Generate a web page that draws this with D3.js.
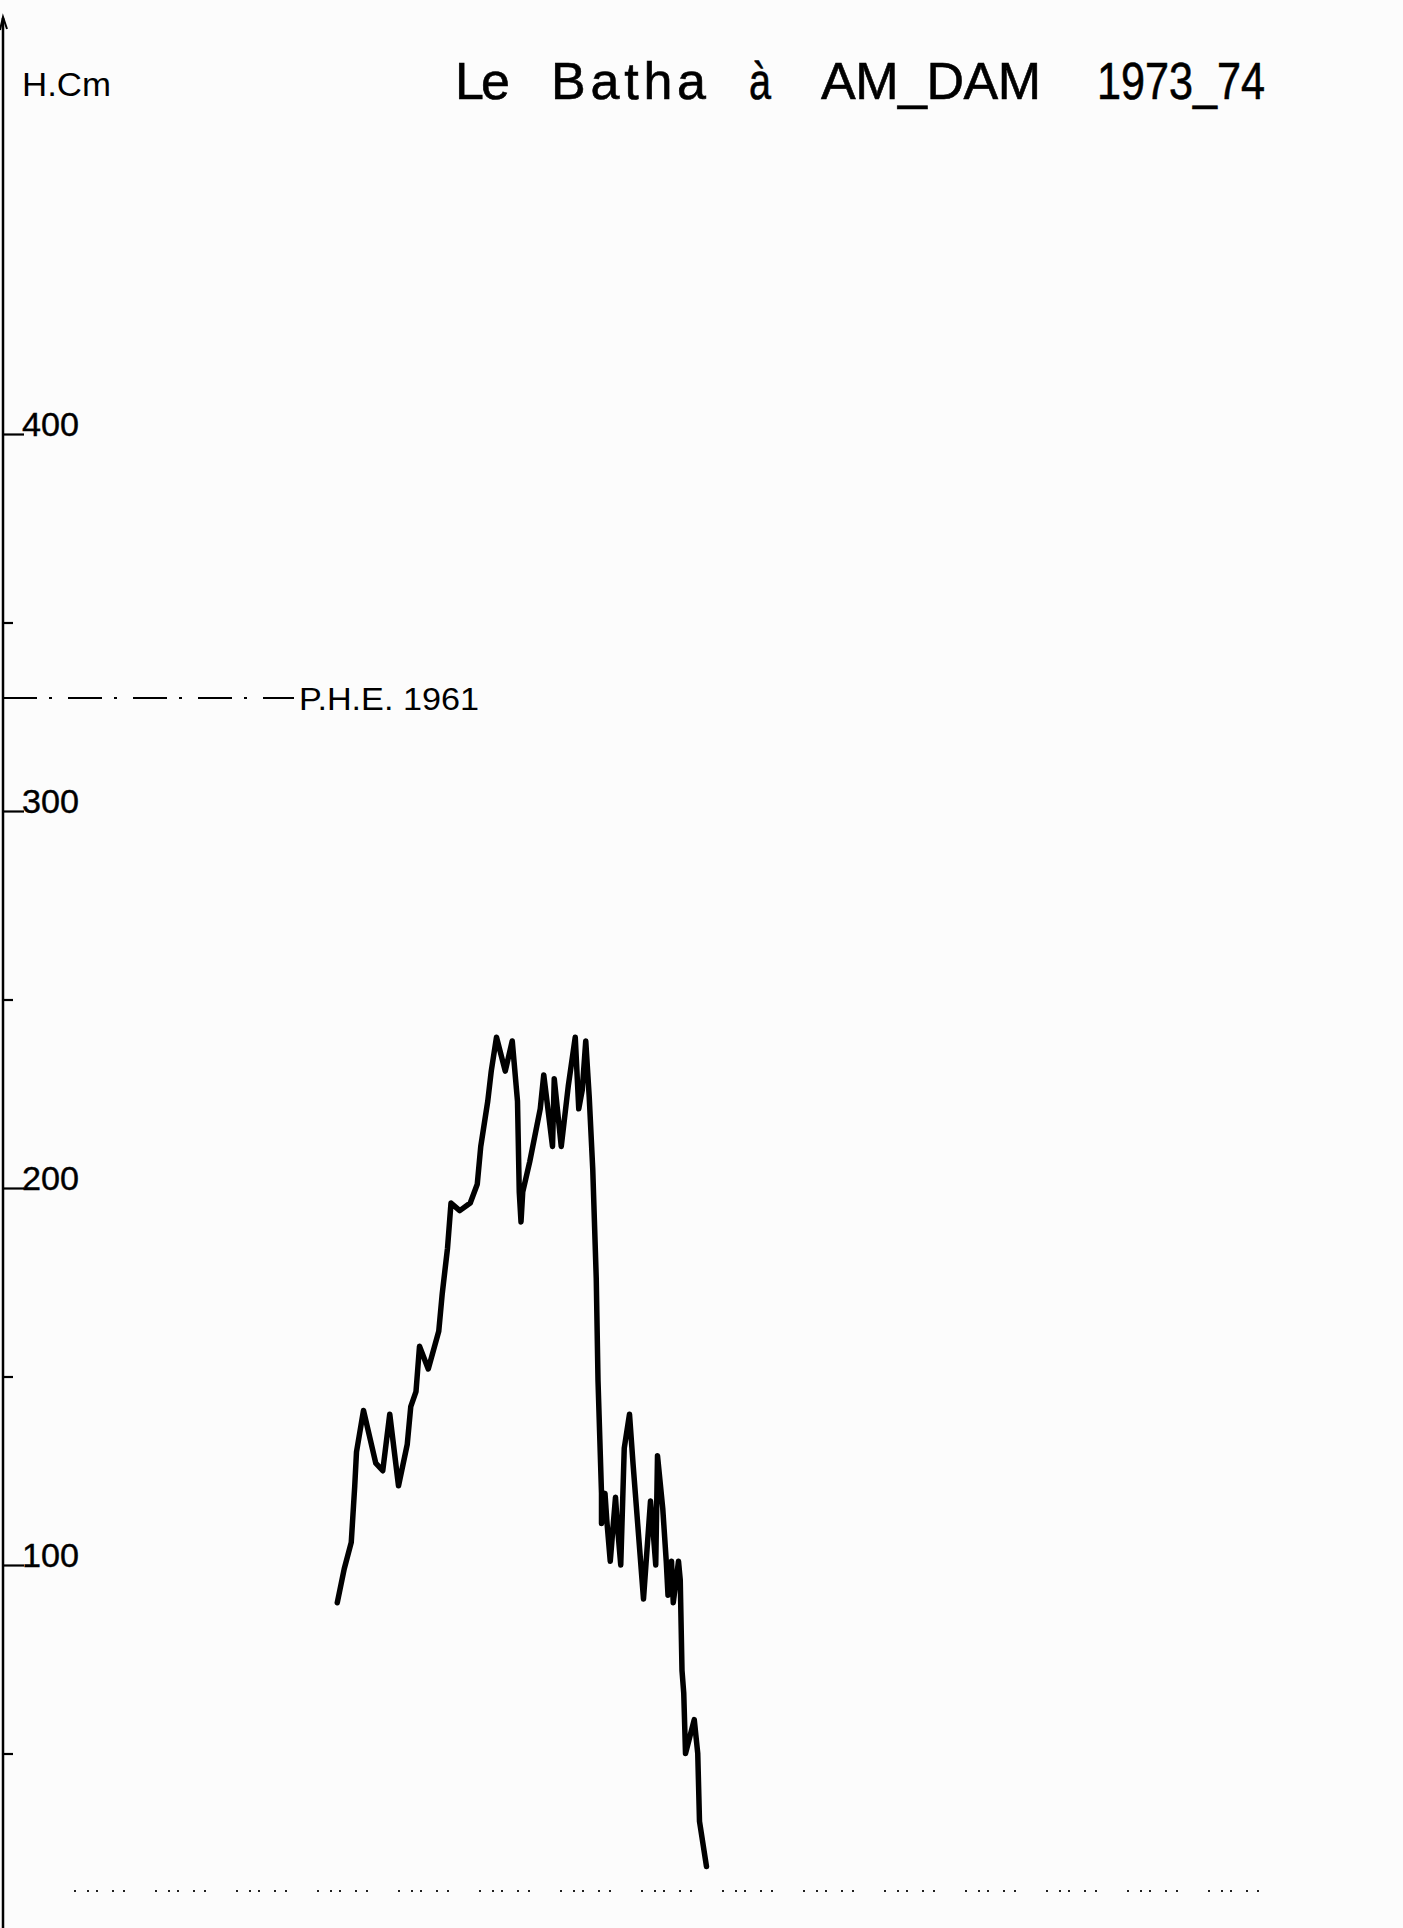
<!DOCTYPE html>
<html>
<head>
<meta charset="utf-8">
<script src="https://cdn.jsdelivr.net/npm/d3@7/dist/d3.min.js"></script>
<style>
  html, body { margin: 0; padding: 0; background: #fcfcfc; }
  svg { display: block; }
  text { font-family: "Liberation Sans", "DejaVu Sans", sans-serif; fill: #000; }
</style>
</head>
<body>
<svg id="chart" width="1403" height="1928"></svg>
<script>
// ---- Data (gauge readings, half-day resolution, day counted from start of hydrological year) ----
const days = [95.5, 97.5, 99.5, 100.5, 101, 103, 106.5, 108.5, 110.5, 113,
  115.5, 116.5, 118, 119, 121.5, 124.5, 125.5, 127, 128, 130.5,
  133.5, 135.5, 136.5, 138.5, 139.5, 141, 143.5, 145.5, 147, 147.5,
  148, 148.5, 150.5, 153.5, 154.5, 157, 157.5, 159.5, 161.5, 163.5,
  164.5, 165.5, 166.5, 167.5, 168.5, 169.5, 170, 171, 171, 172,
  172.5, 173.5, 175, 175.5, 176.5, 177.5, 179, 180, 183, 185,
  185.5, 186.5, 187, 188.5, 189.5, 190, 191, 191.5, 193, 193.5,
  194, 194.5, 195, 197.5, 198.5, 199, 201];
const heights = [90, 99, 106, 121, 130, 141, 127, 125, 140, 121,
  132, 142, 146, 158, 152, 162, 172, 184, 196, 194,
  196, 201, 211, 223, 231, 240, 231, 239, 223, 199,
  191, 199, 207, 221, 230, 211, 229, 211, 227, 240,
  221, 226, 239, 224, 205, 176, 149, 119, 111, 119,
  112, 101, 118, 111, 100, 131, 140, 127, 91, 117,
  112, 100, 129, 115, 101, 92, 101, 90, 101, 96,
  72, 66, 50, 59, 50, 32, 20];
const yTickValues = [100, 200, 300, 400];
const yMinorTickValues = [50, 150, 250, 350];
const pheValue = 330;
const pheLabel = "P.H.E. 1961";
const yAxisTitle = "H.Cm";
const titleWords = ["Le", "Batha", "à", "AM_DAM", "1973_74"];

// ---- Layout ----
const W = 1403, H = 1928;
const svg = d3.select("#chart");
svg.append("rect").attr("width", W).attr("height", H).attr("fill", "#fcfcfc");

const x = d3.scaleLinear().domain([0, 400]).range([3, 1403]);
const y = d3.scaleLinear().domain([0, 400]).range([1942, 434]);

// Title, word by word (hand lettering, wide spacing)
const titleBoxes = [[455, 55], [551, 155], [749, 22], [821, 220], [1097, 168]];
const title = svg.append("text").attr("y", 99).attr("font-size", 52)
  .attr("stroke", "#000").attr("stroke-width", 0.6);
titleWords.forEach((w, i) => {
  title.append("tspan")
    .attr("x", titleBoxes[i][0])
    .attr("textLength", titleBoxes[i][1])
    .attr("lengthAdjust", (w.length > 1 && w.length < 7) ? "spacing" : "spacingAndGlyphs")
    .text(w);
});

// Y axis title
svg.append("text").attr("x", 22).attr("y", 96).attr("font-size", 34)
  .attr("textLength", 89).attr("lengthAdjust", "spacingAndGlyphs").text(yAxisTitle);

// Axis line with small arrow
svg.append("line").attr("x1", 3).attr("x2", 3).attr("y1", 18).attr("y2", H)
  .attr("stroke", "#000").attr("stroke-width", 2.5);
svg.append("path").attr("d", "M0,30 L3,17 L7,29").attr("fill", "none")
  .attr("stroke", "#000").attr("stroke-width", 2);

// Major ticks with labels sitting on the tick
const axMajor = svg.append("g").attr("transform", "translate(3,0)")
  .call(d3.axisRight(y).tickValues(yTickValues).tickSize(21).tickSizeOuter(0).tickPadding(0));
axMajor.select(".domain").remove();
axMajor.selectAll(".tick line").attr("stroke", "#000").attr("stroke-width", 2.2);
axMajor.selectAll(".tick text")
  .attr("x", 19).attr("dy", 0).attr("y", 1)
  .attr("font-size", 34).attr("font-family", "Liberation Sans, sans-serif")
  .attr("fill", "#000").attr("text-anchor", "start")
  .attr("stroke", "#000").attr("stroke-width", 0.4)
  .attr("textLength", 57).attr("lengthAdjust", "spacingAndGlyphs");

// Minor ticks
const axMinor = svg.append("g").attr("transform", "translate(3,0)")
  .call(d3.axisRight(y).tickValues(yMinorTickValues).tickSize(10).tickFormat(""));
axMinor.select(".domain").remove();
axMinor.selectAll(".tick line").attr("stroke", "#000").attr("stroke-width", 2.2);

// P.H.E. 1961 dash-dot reference line
svg.append("line").attr("x1", 3).attr("x2", 294)
  .attr("y1", y(pheValue)).attr("y2", y(pheValue))
  .attr("stroke", "#000").attr("stroke-width", 2)
  .attr("stroke-dasharray", "34 12 3 16");
svg.append("text").attr("x", 299).attr("y", y(pheValue) + 12).attr("font-size", 32)
  .attr("textLength", 180).attr("lengthAdjust", "spacingAndGlyphs").text(pheLabel);

// Dotted base row
svg.append("line").attr("x1", 74).attr("x2", 1285).attr("y1", 1891).attr("y2", 1891)
  .attr("stroke", "#222").attr("stroke-width", 2)
  .attr("stroke-dasharray", "2 11 2 7 2 14 2 9 2 30");

// Water level hydrograph
const line = d3.line().x((d, i) => x(days[i])).y((d, i) => y(heights[i]));
svg.append("path").datum(heights)
  .attr("d", line)
  .attr("fill", "none").attr("stroke", "#000")
  .attr("stroke-width", 5.5).attr("stroke-linejoin", "round").attr("stroke-linecap", "round");
</script>
</body>
</html>
